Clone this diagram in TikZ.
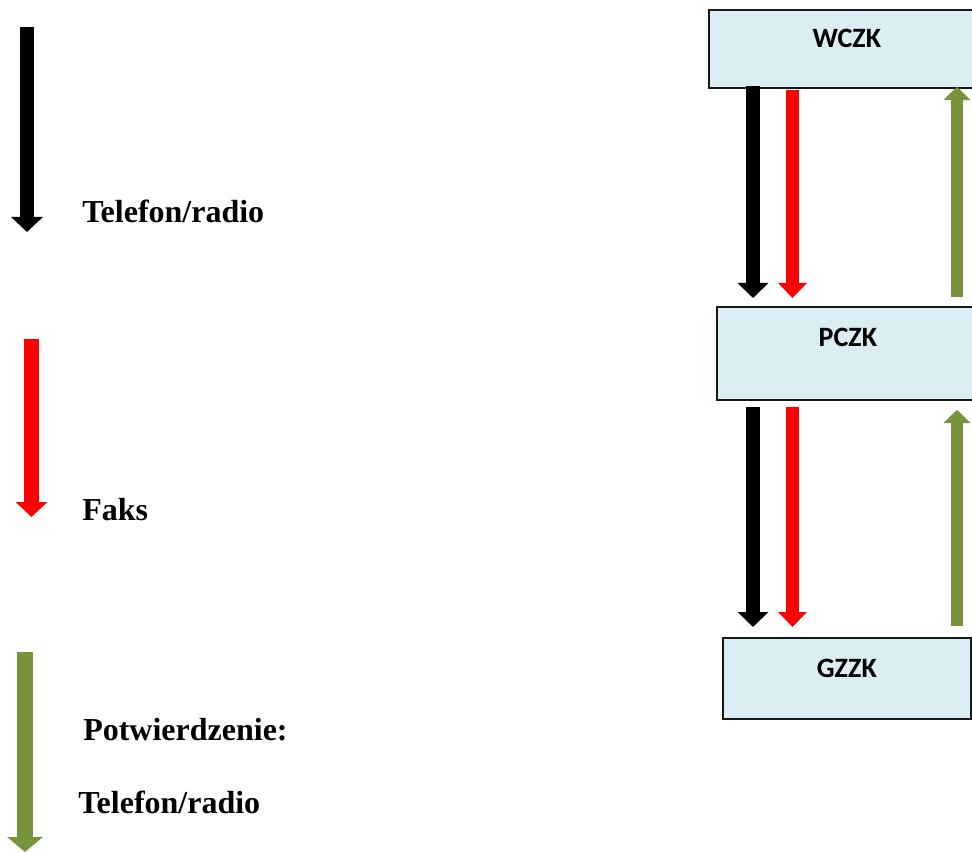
\documentclass[tikz,border=0pt]{standalone}
\usepackage{fontspec}
\setmainfont{Liberation Serif}
\newfontfamily\boxfont{Carlito}
\usetikzlibrary{arrows.meta,positioning}
\definecolor{boxblue}{HTML}{DAEEF3}
\definecolor{ackgreen}{HTML}{77933C}
\definecolor{faxred}{HTML}{FF0000}

\tikzset{
  centre/.style={draw=black!90, line width=1.3pt, fill=boxblue, inner sep=0pt,
    anchor=north west, font=\boxfont\bfseries\fontsize{21}{25}\selectfont},
  legendtext/.style={inner sep=0pt, anchor=base west,
    font=\bfseries\fontsize{24}{28}\selectfont},
  telarr/.style={black, line width=10.5pt, -{Triangle[width=22.5pt,length=11.25pt]}},
  faxarr/.style={faxred, line width=9.75pt, -{Triangle[width=21pt,length=11.25pt]}},
  ackarr/.style={ackgreen, line width=9pt, -{Triangle[width=19.5pt,length=10pt]}},
}

\begin{document}
\begin{tikzpicture}[x=0.75pt, y=-0.75pt]
\useasboundingbox (0,0) rectangle (972,852);
\clip (0,0) rectangle (972,852);

% Legend: one arrow per channel, with its label
\foreach \name/\col/\x/\ya/\yb/\w/\hw in {tel/black/27/27/232/10.5/23.25, fax/faxred/31.5/339/517/11.25/23.25, ack/ackgreen/25/652/852/12/26.25} {
    \coordinate (leg \name a) at (\x,\ya);
    \coordinate (leg \name b) at (\x,\yb);
    \draw[\col, line width=\w pt, -{Triangle[width=\hw pt,length=11.25pt]}]
        (leg \name a) -- (leg \name b);
}
\node[legendtext] (lab tel) at (82,223) {Telefon/radio};
\node[legendtext] (lab fax) at (82,520) {Faks};
\node[legendtext] (lab ack) at (83,740) {Potwierdzenie:};
\node[legendtext] (lab ack2) at (78,813) {Telefon/radio};

% Boxes
\node[centre, minimum width=207pt, text height=28.5pt, text depth=30pt] (wczk) at (708,9) {WCZK};
\node[centre, minimum width=196.5pt, text height=30pt, text depth=39.75pt] (pczk) at (716,306) {PCZK};
\node[centre, minimum width=186pt, text height=30pt, text depth=30.75pt] (gzzk) at (722,637) {GZZK};

% Columns of the arrows
\coordinate (tel) at (753,0);
\coordinate (fax) at (792.5,0);
\coordinate (ack) at (957,0);

% WCZK <-> PCZK
\draw[telarr, shorten <=-2.25pt, shorten >=6pt] (tel |- wczk.south) -- (tel |- pczk.north);
\draw[faxarr, shorten <=0.75pt, shorten >=6pt] (fax |- wczk.south) -- (fax |- pczk.north);
\draw[ackarr, shorten <=6.75pt, shorten >=-1.5pt] (ack |- pczk.north) -- (ack |- wczk.south);

% PCZK <-> GZZK
\draw[telarr, shorten <=4.5pt, shorten >=7.5pt] (tel |- pczk.south) -- (tel |- gzzk.north);
\draw[faxarr, shorten <=4.5pt, shorten >=7.5pt] (fax |- pczk.south) -- (fax |- gzzk.north);
\draw[ackarr, shorten <=8.25pt, shorten >=6.75pt] (ack |- gzzk.north) -- (ack |- pczk.south);
\end{tikzpicture}
\end{document}
